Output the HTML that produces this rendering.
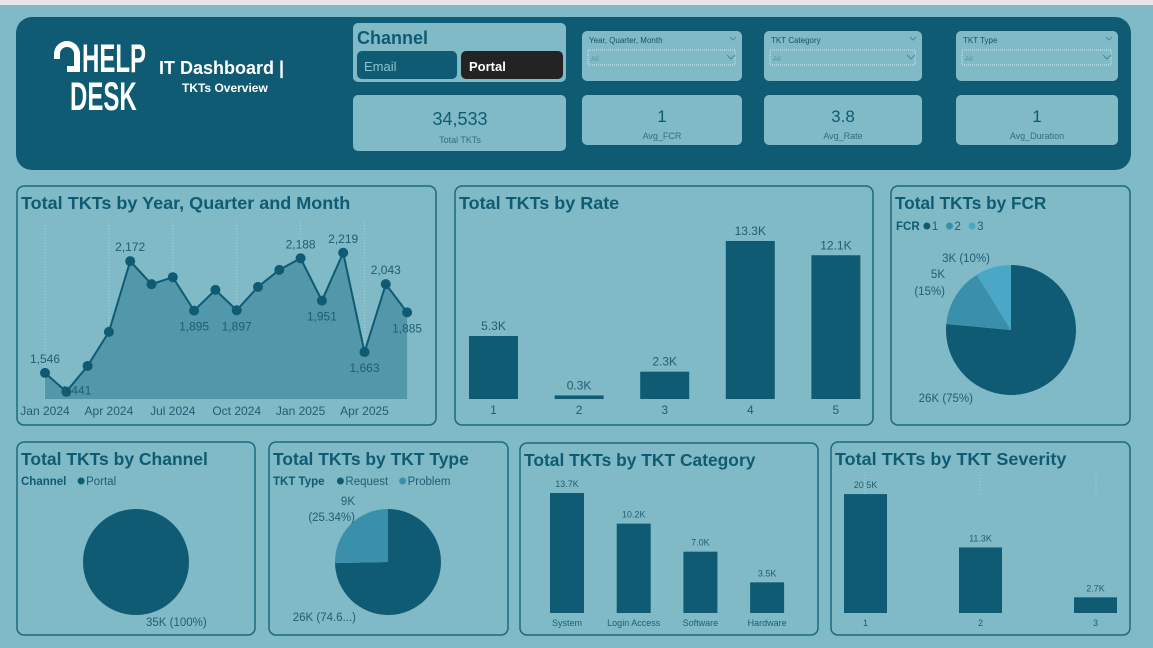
<!DOCTYPE html>
<html><head><meta charset="utf-8">
<style>
html,body{margin:0;padding:0;background:#7fbac6;}
svg{display:block;font-family:"Liberation Sans",sans-serif;}
</style></head>
<body>
<svg id="root" width="1153" height="648" viewBox="0 0 1153 648" xmlns="http://www.w3.org/2000/svg">
<rect x="0" y="0" width="1153" height="648" fill="#7fbac6"/>
<rect x="0" y="0" width="1153" height="5" fill="#e6e6e6"/>
<!-- header -->
<rect x="16" y="17" width="1115" height="153" rx="16" fill="#0f5b73"/>
<g fill="#fff">
  <path d="M54,54 a13,13 0 0 1 26,0 v18 h-13 v-6 h7 v-12 a7,7 0 0 0 -14,0 v5 h-6z" fill="#fff"/>
  <g transform="translate(82,72) scale(0.6,1)"><text x="0" y="0" font-size="40" font-weight="bold">HELP</text></g>
  <g transform="translate(70,110) scale(0.6,1)"><text x="0" y="0" font-size="40" font-weight="bold">DESK</text></g>
</g>
<text x="159" y="74" font-size="18" font-weight="bold" fill="#fff">IT Dashboard |</text>
<text x="182" y="92" font-size="12" font-weight="bold" fill="#fff">TKTs Overview</text>

<g>
  <rect x="353" y="23" width="213" height="59" rx="5" fill="#7fbac6"/>
  <text x="357" y="44" font-size="18" fill="#0f5b73" font-weight="bold">Channel</text>
  <rect x="357" y="51" width="100" height="28" rx="5" fill="#0f5b73"/>
  <text x="364" y="71" font-size="13" fill="#8fc3cf">Email</text>
  <rect x="461" y="51" width="102" height="28" rx="5" fill="#232323"/>
  <text x="469" y="71" font-size="13" fill="#fff" font-weight="bold">Portal</text>
</g>
<g>
  <rect x="353" y="95" width="213" height="56" rx="5" fill="#7fbac6"/>
  <text x="460" y="125" font-size="18" fill="#0f5b73" text-anchor="middle">34,533</text>
  <text x="460" y="143" font-size="9" fill="#2f6f82" text-anchor="middle">Total TKTs</text>
</g>
<g id="filters"></g>
<g id="kpis"></g>

<g id="panels"></g>
<g id="line"></g>
<g id="rate"></g>
<g id="fcr"></g>
<g id="chan"></g>
<g id="type"></g>
<g id="cat"></g>
<g id="sev"></g>
</svg>
<script>
// ---- data ----
const months = ["Jan 2024","Feb 2024","Mar 2024","Apr 2024","May 2024","Jun 2024","Jul 2024","Aug 2024","Sep 2024","Oct 2024","Nov 2024","Dec 2024","Jan 2025","Feb 2025","Mar 2025","Apr 2025","May 2025","Jun 2025"];
const monthlyTkts = [1546,1441,1585,1776,2172,2043,2082,1895,2011,1897,2028,2123,2188,1951,2219,1663,2043,1885];
const monthTickLabels = ["Jan 2024","Apr 2024","Jul 2024","Oct 2024","Jan 2025","Apr 2025"];
const labeledMonths = {0:"above",1:"right",4:"above",7:"below",9:"below",12:"above",13:"below",14:"above",15:"below",16:"above",17:"below"};
const rateCats = ["1","2","3","4","5"];
const rateVals = [5.3,0.3,2.3,13.3,12.1];
const fcrCats = ["1","2","3"];
const fcrVals = [26,5,3];
const fcrLabels = ["26K (75%)","5K (15%)","3K (10%)"];
const chanCats = ["Portal"];
const chanVals = [35];
const typeCats = ["Request","Problem"];
const typeVals = [74.66,25.34];
const catCats = ["System","Login Access","Software","Hardware"];
const catVals = [13.7,10.2,7.0,3.5];
const sevCats = ["1","2","3"];
const sevVals = [20.5,11.3,2.7];
const filterNames = ["Year, Quarter, Month","TKT Category","TKT Type"];
const kpiNames = ["Avg_FCR","Avg_Rate","Avg_Duration"];
const kpiVals = ["1","3.8","1"];

const NS="http://www.w3.org/2000/svg";
const DARK="#0f5b73", MID="#3a8fab", LIGHT="#4aa8c6";
function mk(parent,tag,attrs,text){const e=document.createElementNS(NS,tag);for(const k in attrs)e.setAttribute(k,attrs[k]);if(text!==undefined)e.textContent=text;parent.appendChild(e);return e;}
const $=id=>document.getElementById(id);

const fx=[582,764,956], fw=[160,158,162];
filterNames.forEach((n,i)=>{
  const g=mk($("filters"),"g",{});
  
  
  mk(g,"rect",{x:fx[i],y:31,width:fw[i],height:50,rx:5,fill:"#7fbac6"});
  mk(g,"text",{x:fx[i]+7,y:43,"font-size":8,fill:"#1f4f5e"},n);
  mk(g,"path",{d:`M${fx[i]+fw[i]-12},37 l3,3 l3,-3`,stroke:"#4f8a9a",fill:"none"});
  mk(g,"rect",{x:fx[i]+6,y:50,width:fw[i]-13,height:15,fill:"none",stroke:"#cfe6ec","stroke-dasharray":"1,1"});
  mk(g,"text",{x:fx[i]+9,y:61,"font-size":7,fill:"#5c96a5"},"All");
  mk(g,"path",{d:`M${fx[i]+fw[i]-15},55 l4,4 l4,-4`,stroke:"#4f8a9a",fill:"none"});
});
kpiNames.forEach((n,i)=>{
  const g=mk($("kpis"),"g",{});
  
  
  mk(g,"rect",{x:fx[i],y:95,width:fw[i],height:50,rx:5,fill:"#7fbac6"});
  mk(g,"text",{x:fx[i]+fw[i]/2,y:122,"font-size":17,fill:DARK,"text-anchor":"middle"},kpiVals[i]);
  mk(g,"text",{x:fx[i]+fw[i]/2,y:139,"font-size":9,fill:"#2f6f82","text-anchor":"middle"},n);
});

const panels=[
 ["line-chart-panel",17,186,419,239,"Total TKTs by Year, Quarter and Month"],
 ["rate-chart-panel",455,186,418,239,"Total TKTs by Rate"],
 ["fcr-chart-panel",891,186,239,239,"Total TKTs by FCR"],
 ["channel-chart-panel",17,442,238,193,"Total TKTs by Channel"],
 ["type-chart-panel",269,442,239,193,"Total TKTs by TKT Type"],
 ["category-chart-panel",520,443,298,192,"Total TKTs by TKT Category"],
 ["severity-chart-panel",831,442,299,193,"Total TKTs by TKT Severity"]];
panels.forEach(p=>{
  const g=mk($("panels"),"g",{});
  
  
  mk(g,"rect",{x:p[1],y:p[2],width:p[3],height:p[4],rx:7,fill:"none",stroke:"#1d6a80","stroke-width":1.5});
  const t=mk(g,"text",{x:p[1]+4,y:p[2]+23,"font-size":17.5,"font-weight":"bold",fill:DARK,textLength:Math.min(p[3]-10,p[5].length*8.9),lengthAdjust:"spacingAndGlyphs"},p[5]);
  
  
});

(function(){
  const g=$("line");
  const xS=i=>45+i*21.3, yS=v=>399-(v-1400)/5.6, base=399;
  monthTickLabels.forEach(l=>{
    const i=months.indexOf(l);
    mk(g,"line",{x1:xS(i),x2:xS(i),y1:222,y2:399,stroke:"#a9d3dc","stroke-dasharray":"1,2"});
    const t=mk(g,"text",{x:xS(i),y:415,"font-size":12,fill:"#1f5e72","text-anchor":"middle"},l);
    
    
  });
  let d=`M${xS(0)},${base}`;monthlyTkts.forEach((v,i)=>d+=` L${xS(i)},${yS(v)}`);d+=` L${xS(monthlyTkts.length-1)},${base}Z`;
  const a=mk(g,"path",{d:d,fill:"#5297aa"});
  
  
  let l="";monthlyTkts.forEach((v,i)=>l+=(i?" L":"M")+xS(i)+","+yS(v));
  const ln=mk(g,"path",{d:l,fill:"none",stroke:DARK,"stroke-width":2});
  
  
  monthlyTkts.forEach((v,i)=>{
    const c=mk(g,"circle",{cx:xS(i),cy:yS(v),r:5,fill:DARK});
    
    
    const pos=labeledMonths[i];
    if(pos){
      let y=pos=="above"?yS(v)-10:pos=="below"?yS(v)+20:yS(v)+3, x=pos=="right"?xS(i)+10:xS(i);
      const t=mk(g,"text",{x:x,y:y,"font-size":12,fill:"#1f5e72","text-anchor":"middle"},v.toLocaleString("en-US"));
      
      
    }
  });
})();

function bars(gid,cats,vals,x0,step,bw,base,pxPer,fs,lfs,name){
  const g=$(gid);
  cats.forEach((c,i)=>{
    const x=x0+i*step, h=vals[i]*pxPer;
    const r=mk(g,"rect",{x:x,y:base-h,width:bw,height:h,fill:DARK});
    
    
    const t=mk(g,"text",{x:x+bw/2,y:base-h-6,"font-size":fs,fill:"#1f5e72","text-anchor":"middle"},vals[i].toFixed(1)+"K");
    
    
    const a=mk(g,"text",{x:x+bw/2,y:base+(lfs>10?15:13),"font-size":lfs,fill:"#1f5e72","text-anchor":"middle"},c);
    
    
  });
}
bars("rate",rateCats,rateVals,469,85.6,49,399,11.88,12,12,"rate");
bars("cat",catCats,catVals,550,66.7,34,613,8.76,9,9,"category");
bars("sev",sevCats,sevVals,844,115,43,613,5.8,9,9,"severity");
[865,980,1096].forEach(x=>mk($("sev"),"line",{x1:x,x2:x,y1:475,y2:494,stroke:"#a9d3dc","stroke-dasharray":"1,2"}));

function pie(gid,cx,cy,r,vals,cols,name,cats){
  const g=$(gid);const tot=vals.reduce((a,b)=>a+b,0);let a0=-Math.PI/2;
  vals.forEach((v,i)=>{
    const a1=a0+v/tot*2*Math.PI;let el;
    if(vals.length==1){el=mk(g,"circle",{cx:cx,cy:cy,r:r,fill:cols[i]});}
    else{
      const large=(a1-a0)>Math.PI?1:0;
      el=mk(g,"path",{d:`M${cx},${cy} L${cx+r*Math.cos(a0)},${cy+r*Math.sin(a0)} A${r},${r} 0 ${large} 1 ${cx+r*Math.cos(a1)},${cy+r*Math.sin(a1)}Z`,fill:cols[i]});
    }
    
    
    a0=a1;
  });
}
function legend(g,x,y,title,cats,cols){
  const t=mk(g,"text",{x:x,y:y,"font-size":11.5,fill:DARK,"font-weight":"bold"},title);
  let cx=x+title.length*7.3+6;
  cats.forEach((c,i)=>{
    const d=mk(g,"circle",{cx:cx+3,cy:y-4,r:3.5,fill:cols[i]});
    
    
    const e=mk(g,"text",{x:cx+8,y:y,"font-size":11.5,fill:"#1f5e72"},c);
    
    
    cx+=c.length*6.6+16;
  });
}
function lbl(g,x,y,s,anchor){const t=mk(g,"text",{x:x,y:y,"font-size":11.5,fill:"#1f5e72","text-anchor":anchor||"start"},s);}

pie("fcr",1011,330,65,fcrVals,[DARK,MID,LIGHT],"fcr",fcrCats);
legend($("fcr"),896,230,"FCR",fcrCats,[DARK,MID,LIGHT]);
lbl($("fcr"),973,402,fcrLabels[0],"end");
lbl($("fcr"),945,278,"5K","end");
lbl($("fcr"),945,295,"(15%)","end");
lbl($("fcr"),990,262,fcrLabels[2],"end");

pie("chan",136,562,53,chanVals,[DARK],"channel",chanCats);
legend($("chan"),21,485,"Channel",chanCats,[DARK]);
lbl($("chan"),146,626,"35K (100%)");

pie("type",388,562,53,typeVals,[DARK,MID],"type",typeCats);
legend($("type"),273,485,"TKT Type",typeCats,[DARK,MID]);
lbl($("type"),355,505,"9K","end");
lbl($("type"),355,521,"(25.34%)","end");
lbl($("type"),356,621,"26K (74.6...)","end");
</script>
</body></html>
